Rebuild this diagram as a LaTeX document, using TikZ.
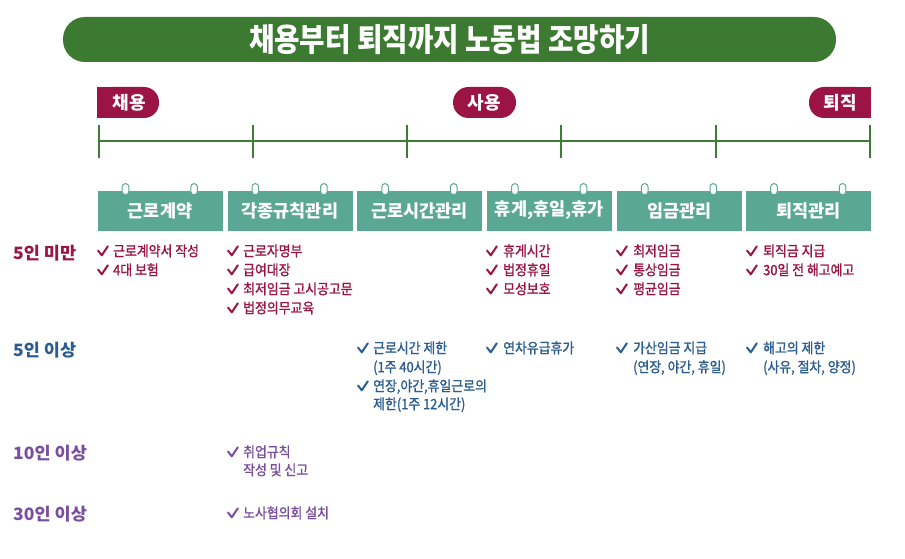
\documentclass[tikz,border=0pt]{standalone}
\usepackage{fontspec}
\usetikzlibrary{calc}
\setmainfont{Noto Sans CJK KR}
\newfontfamily\ttlf{Noto Sans CJK KR}[FakeStretch=0.865]
\newfontfamily\itmf{Noto Sans CJK KR}[FakeStretch=0.9, FakeBold=1.2]
\newfontfamily\tabf{Noto Sans CJK KR}[FakeStretch=1.0]
\newfontfamily\lblf{Noto Sans CJK KR}[FakeStretch=1.03]
\definecolor{titlegreen}{HTML}{3C7A32}
\definecolor{linegreen}{HTML}{3E7C35}
\definecolor{crim}{HTML}{9B1443}
\definecolor{tealc}{HTML}{5AA893}
\definecolor{bluec}{HTML}{2B5D8E}
\definecolor{purp}{HTML}{7A4E9E}
\newcommand\chkmark[3]{\draw[#3, line width=2pt, line join=round, line cap=round] (#1,#2) ++(0,-0.5) -- ++(3.8,4.8) -- ++(6,-9);}
\tikzset{
  itemtxt/.style={anchor=base west, inner sep=0pt, yshift=-5.2pt, font=\itmf\fontsize{14.3}{14.3}\selectfont},
  rowlbl/.style={anchor=base west, inner sep=0pt, yshift=-6.3pt, font=\lblf\bfseries\fontsize{17}{17}\selectfont},
  tabbox/.style={fill=tealc, draw=white, line width=0.6pt, minimum width=126pt, minimum height=41pt, inner sep=0pt, text=white, font=\tabf\bfseries\fontsize{17.5}{17.5}\selectfont},
  ringst/.style={fill=white, draw=tealc, line width=1pt, rounded corners=3pt},
  tagtxt/.style={text=white, inner sep=0pt, font=\tabf\bfseries\fontsize{18}{18}\selectfont},
  tick/.style={draw=linegreen, line width=2pt}
}
\begin{document}
\begin{tikzpicture}[x=1pt,y=-1pt]
\useasboundingbox[fill=white] (0,0) rectangle (905,559);
% title
\node[fill=titlegreen, rounded corners=22pt, minimum width=773pt, minimum height=45pt, inner sep=0pt, text=white, font=\ttlf\bfseries\fontsize{32}{32}\selectfont] (title) at (449.5,39.5) {\raisebox{-1pt}{채용부터 퇴직까지 노동법 조망하기}};
% tags
\fill[crim, rounded corners=15pt] (97,87) rectangle (159,118);
\fill[crim] (97,87) rectangle (125,118);
\node[tagtxt] (tag1) at (129,102.5) {채용};
\fill[crim, rounded corners=15.5pt] (453,87) rectangle (516,118);
\node[tagtxt] (tag2) at (484.5,102.5) {사용};
\fill[crim, rounded corners=15pt] (809,87) rectangle (871,118);
\fill[crim] (840,87) rectangle (871,118);
\node[tagtxt] (tag3) at (840,102.5) {퇴직};
% timeline
\foreach \i/\x in {0/99,1/253,2/407,3/561,4/716,5/870}{
  \coordinate (t\i) at (\x,141);
  \coordinate (ta\i) at (\x,125);
  \coordinate (tb\i) at (\x,158);
  \draw[tick] (ta\i) -- (tb\i);
}
\draw[tick] (t0) -- (t5);
% tabs
\foreach \i/\x/\t in {1/160/근로계약,2/289.8/각종규칙관리,3/419.6/근로시간관리,4/549.4/{휴게,휴일,휴가},5/679.2/임금관리,6/808.5/퇴직관리}{
  \node[tabbox] (tab\i) at (\x,210.5) {\raisebox{-2pt}{\t}};
  \draw[ringst] ($(tab\i.north)+(-37.8,-6)$) rectangle ($(tab\i.north)+(-31.2,5)$);
  \draw[ringst] ($(tab\i.north)+(30.8,-6)$) rectangle ($(tab\i.north)+(37.4,5)$);
}
% row labels
\node[rowlbl, text=crim] (r1) at (13,253) {5인 미만};
\node[rowlbl, text=bluec] (r2) at (13,350) {5인 이상};
\node[rowlbl, text=purp] (r3) at (13,453) {10인 이상};
\node[rowlbl, text=purp] (r4) at (13,514) {30인 이상};
% row 1 items
\begin{scope}[every node/.style={itemtxt, text=crim}]
\chkmark{98}{251}{crim} \node (a1) at (113,251) {근로계약서 작성};
\chkmark{98}{270}{crim} \node (a2) at (113,270) {4대 보험};
\chkmark{228}{251}{crim} \node (b1) at (243,251) {근로자명부};
\chkmark{228}{270}{crim} \node (b2) at (243,270) {급여대장};
\chkmark{228}{289}{crim} \node (b3) at (243,289) {최저임금 고시공고문};
\chkmark{228}{308}{crim} \node (b4) at (243,308) {법정의무교육};
\chkmark{487}{251}{crim} \node (d1) at (503,251) {휴게시간};
\chkmark{487}{270}{crim} \node (d2) at (503,270) {법정휴일};
\chkmark{487}{289}{crim} \node (d3) at (503,289) {모성보호};
\chkmark{617}{251}{crim} \node (e1) at (633,251) {최저임금};
\chkmark{617}{270}{crim} \node (e2) at (633,270) {통상임금};
\chkmark{617}{289}{crim} \node (e3) at (633,289) {평균임금};
\chkmark{747}{251}{crim} \node (f1) at (763,251) {퇴직금 지급};
\chkmark{747}{270}{crim} \node (f2) at (763,270) {30일 전 해고예고};
\end{scope}
% row 2 items
\begin{scope}[every node/.style={itemtxt, text=bluec}]
\chkmark{358}{348}{bluec} \node (c1) at (373,348) {근로시간 제한};
\node (c2) at (373,367) {(1주 40시간)};
\chkmark{358}{386}{bluec} \node (c3) at (373,386) {연장,야간,휴일근로의};
\node (c4) at (373,404) {제한(1주 12시간)};
\chkmark{487}{348}{bluec} \node (g1) at (503,348) {연차유급휴가};
\chkmark{617}{348}{bluec} \node (h1) at (633,348) {가산임금 지급};
\node (h2) at (633,367) {(연장, 야간, 휴일)};
\chkmark{747}{348}{bluec} \node (k1) at (763,348) {해고의 제한};
\node (k2) at (763,367) {(사유, 절차, 양정)};
\end{scope}
% rows 3, 4
\begin{scope}[every node/.style={itemtxt, text=purp}]
\chkmark{228}{452}{purp} \node (m1) at (243,452) {취업규칙};
\node (m2) at (243,470) {작성 및 신고};
\chkmark{228}{513}{purp} \node (n1) at (243,513) {노사협의회 설치};
\end{scope}
\end{tikzpicture}
\end{document}
